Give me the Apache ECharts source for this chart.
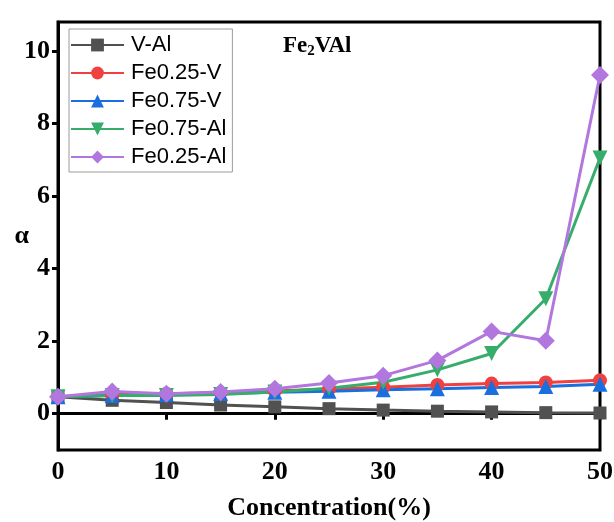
<!DOCTYPE html>
<html>
<head>
<meta charset="utf-8">
<script src="https://cdn.jsdelivr.net/npm/echarts@6/dist/echarts.min.js"></script>
<style>
  html, body { margin: 0; padding: 0; background: #fff; }
  #chart { width: 614px; height: 522px; }
</style>
</head>
<body>
<div id="chart"></div>
<script>
// concentration (%) on x
const concentration = [0, 5, 10, 15, 20, 25, 30, 35, 40, 45, 50];

// alpha values
const vAl = [0.47, 0.37, 0.31, 0.24, 0.19, 0.14, 0.10, 0.07, 0.05, 0.03, 0.02];
const fe025V = [0.47, 0.53, 0.55, 0.58, 0.63, 0.68, 0.73, 0.79, 0.83, 0.86, 0.92];
const fe075V = [0.47, 0.50, 0.53, 0.56, 0.59, 0.62, 0.66, 0.69, 0.72, 0.75, 0.81];
const fe075Al = [0.47, 0.50, 0.50, 0.53, 0.60, 0.70, 0.87, 1.21, 1.66, 3.17, 7.05];
const fe025Al = [0.47, 0.61, 0.55, 0.60, 0.69, 0.85, 1.05, 1.47, 2.27, 2.01, 9.34];

const xTicks = [0, 10, 20, 30, 40, 50];
const yTicks = [0, 2, 4, 6, 8, 10];

const seriesDefs = [
  { name: 'V-Al', data: vAl, color: '#515151', symbol: 'rect', size: 13 },
  { name: 'Fe0.25-V', data: fe025V, color: '#F14040', symbol: 'circle', size: 14 },
  { name: 'Fe0.75-V', data: fe075V, color: '#1A6FDF', symbol: 'triangle', size: 15 },
  { name: 'Fe0.75-Al', data: fe075Al, color: '#37AD6B', symbol: 'path://M0,0 L10,0 L5,9 Z', size: 15 },
  { name: 'Fe0.25-Al', data: fe025Al, color: '#B177DE', symbol: 'diamond', size: 18 },
];

const serif = '"Liberation Serif", "Times New Roman", serif';

const chart = echarts.init(document.getElementById('chart'));

chart.setOption({
  animation: false,
  title: {
    text: 'Fe{sub|2}VAl',
    left: 278,
    top: 29,
    textStyle: {
      fontFamily: serif,
      fontWeight: 'bold',
      fontSize: 23,
      color: '#000',
      rich: {
        sub: { fontFamily: serif, fontWeight: 'bold', fontSize: 15, color: '#000', padding: [10, 0, 0, 0] },
      },
    },
  },
  legend: {
    orient: 'vertical',
    left: 69,
    top: 29,
    itemWidth: 53,
    itemHeight: 16,
    itemGap: 6,
    padding: [5, 6, 4, 1],
    borderColor: '#9a9a9a',
    borderWidth: 1,
    backgroundColor: '#fff',
    textStyle: { fontFamily: '"Liberation Sans", Arial, sans-serif', fontSize: 22, color: '#000', padding: [0, 0, 0, 2] },
  },
  grid: {
    left: 58,
    right: 14,
    top: 22,
    bottom: 72,
    outerBoundsMode: 'none',
    show: true,
    borderColor: '#000',
    borderWidth: 3,
  },
  xAxis: {
    type: 'value',
    min: 0,
    max: 50,
    interval: 10,
    name: 'Concentration(%)',
    nameLocation: 'middle',
    nameGap: 45,
    nameMoveOverlap: false,
    nameTextStyle: { fontFamily: serif, fontWeight: 'bold', fontSize: 26, color: '#000' },
    axisLine: { show: true, lineStyle: { color: '#000', width: 3 } },
    axisTick: { show: true, inside: false, length: 6, lineStyle: { color: '#000', width: 3 }, customValues: xTicks },
    axisLabel: { fontFamily: serif, fontWeight: 'bold', fontSize: 26, color: '#000', margin: 9, customValues: xTicks },
    splitLine: { show: false },
  },
  yAxis: {
    type: 'value',
    min: -1,
    max: 10.8,
    name: 'α',
    nameLocation: 'middle',
    nameRotate: 0,
    nameGap: 29,
    nameMoveOverlap: false,
    nameTextStyle: { fontFamily: serif, fontWeight: 'bold', fontSize: 26, color: '#000' },
    axisLine: { show: true, lineStyle: { color: '#000', width: 3 } },
    axisTick: { show: true, inside: false, length: 6, lineStyle: { color: '#000', width: 3 }, customValues: yTicks },
    axisLabel: { fontFamily: serif, fontWeight: 'bold', fontSize: 26, color: '#000', margin: 8, customValues: yTicks },
    splitLine: { show: false },
  },
  series: seriesDefs.map((s) => ({
    name: s.name,
    type: 'line',
    data: s.data.map((v, i) => [concentration[i], v]),
    symbol: s.symbol,
    symbolSize: s.size,
    showAllSymbol: true,
    clip: false,
    lineStyle: { color: s.color, width: 3 },
    itemStyle: { color: s.color },
    emphasis: { disabled: true },
  })),
});
</script>
</body>
</html>
